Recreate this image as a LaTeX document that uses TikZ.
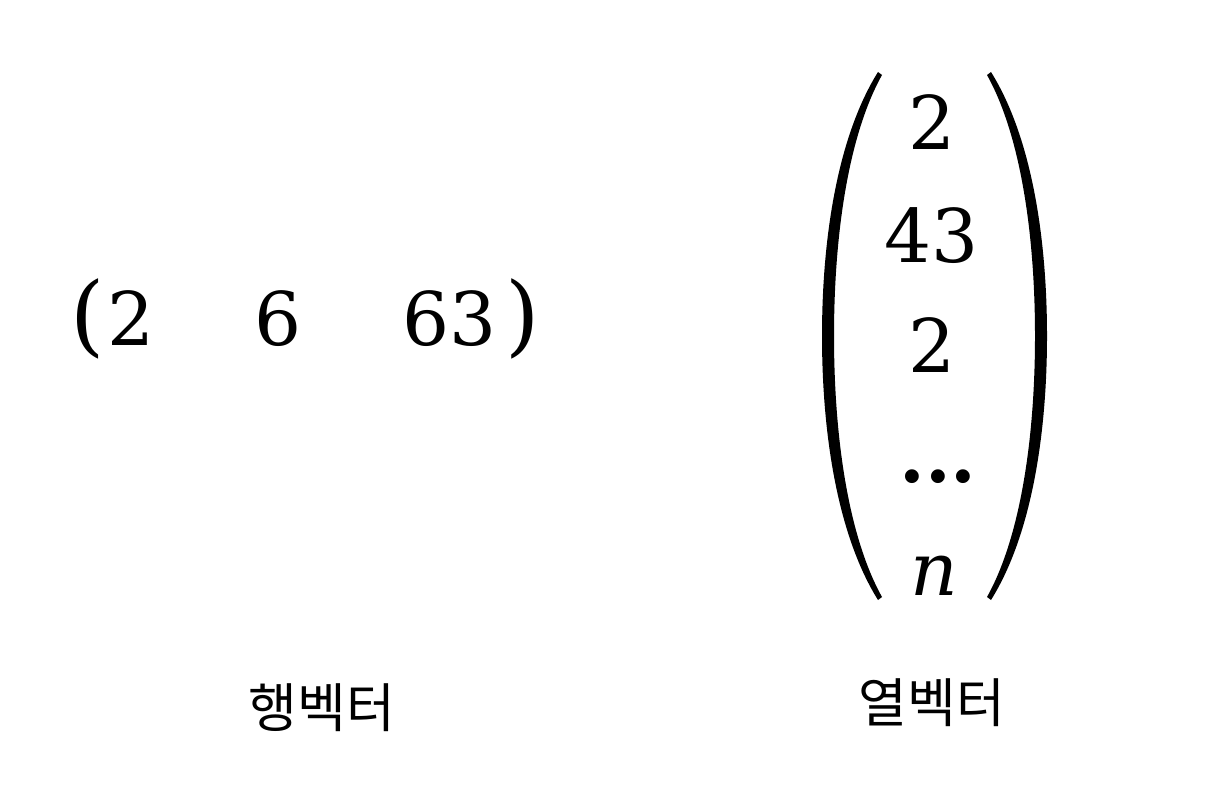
\documentclass[tikz,border=0pt]{standalone}
\usepackage{fontspec}
\newfontfamily\kofont{Noto Sans CJK KR}
\newfontfamily\numfont{DejaVu Serif}
\begin{document}
\begin{tikzpicture}[x=1pt,y=-1pt,
  ent/.style={inner sep=0pt,anchor=base,font=\numfont\fontsize{74}{74}\selectfont},
  rowparen/.style={inner sep=0pt,anchor=center,font=\numfont\fontsize{88}{88}\selectfont},
  lab/.style={inner sep=0pt,anchor=center,font=\kofont\fontsize{53}{53}\selectfont},
  colparen/.pic={\fill (28,-264) .. controls (-12,-200) and (-28,-100) .. (-28,0)
      .. controls (-28,100) and (-12,200) .. (28,264) -- (32,261)
      .. controls (-2,200) and (-16,100) .. (-16,0)
      .. controls (-16,-100) and (-2,-200) .. (32,-261) -- cycle;}]
\useasboundingbox (0,0) rectangle (1212,802);
% row vector
\node[rowparen] (rl) at (88,319) {(};
\node[ent] (r1) at (131,345) {2};
\node[ent] (r2) at (278,345) {6};
\node[ent] (r3) at (450,345) {63};
\node[rowparen] (rr) at (523,319) {)};
% column vector
\pic (cl) at (850,336) {colparen};
\pic[xscale=-1] (cr) at (1019,336) {colparen};
\node[ent] (c1) at (932,150) {2};
\node[ent] (c2) at (932,262) {43};
\node[ent] (c3) at (932,372) {2};
\node[ent] (c4) at (938,482) {\bfseries ...};
\node[ent] (c5) at (934,595) {\itshape n};
% labels
\node[lab] (l1) at (322,708) {행벡터};
\node[lab] (l2) at (932,703) {열벡터};
\end{tikzpicture}
\end{document}
